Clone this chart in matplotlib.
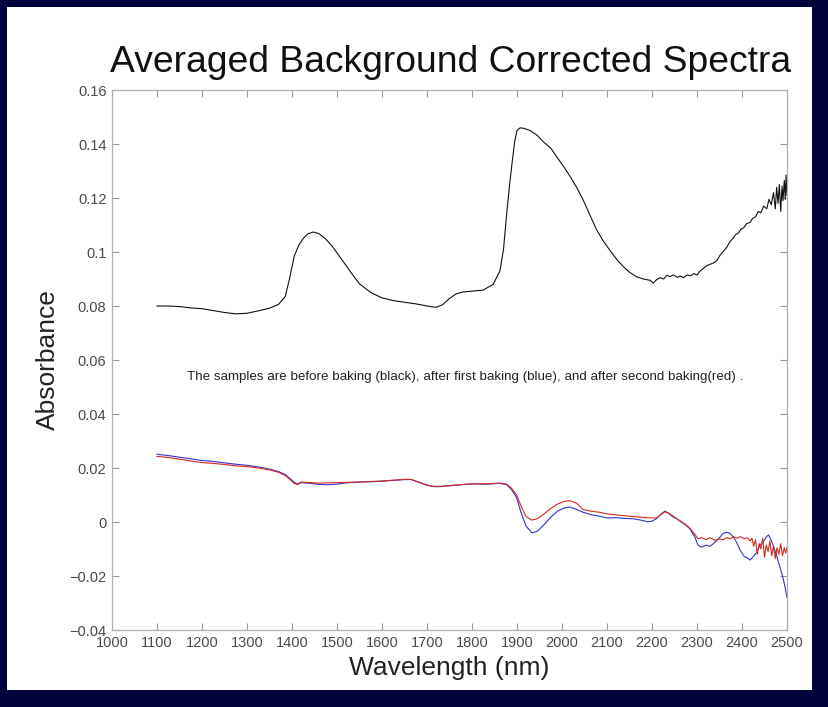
import matplotlib
matplotlib.use("Agg")
import matplotlib.pyplot as plt
from matplotlib.patches import Rectangle

plt.rcParams['font.family'] = ['Liberation Sans', 'DejaVu Sans']

# ---------------- data ----------------
black_nm = [1100,1125,1150,1175,1200,1225,1250,1275,1300,1325,1350,1370,1385,1395,1405,1415,1425,1435,1447,1460,
            1475,1490,1505,1520,1535,1550,1575,1600,1625,1650,1675,1700,1720,1735,1750,1765,1780,1800,1825,1847,
            1862,1870,1877,1883,1889,1895,1900,1907,1915,1929,1945,1958,1975,1988,2003,2018,2033,2047,2062,2077,
            2092,2107,2122,2136,2150,2166,2181,2196,2203,2210,2218,2226,2233,2240,2248,2256,2263,2270,2278,2286,
            2293,2300,2307,2315,2322,2330,2337,2344,2352,2360,2367,2374,2380,2386,2392,2398,2404,2410,2418,2424,
            2430,2436,2442,2448,2455,2460,2465,2470,2474,2477,2480,2483,2486,2489,2491,2494,2496,2498,2500]
black_abs = [0.0800,0.0800,0.0798,0.0793,0.0790,0.0783,0.0776,0.0771,0.0773,0.0782,0.0792,0.0806,0.0835,0.0905,0.0985,
             0.1025,0.1050,0.1067,0.1074,0.1068,0.1048,0.1020,0.0985,0.0950,0.0915,0.0882,0.0850,0.0830,0.0820,0.0814,
             0.0808,0.0800,0.0795,0.0805,0.0828,0.0845,0.0852,0.0855,0.0859,0.0880,0.0930,0.1010,0.1140,0.1240,0.1330,
             0.1410,0.1450,0.1460,0.1458,0.1450,0.1432,0.1409,0.1385,0.1353,0.1318,0.1280,0.1238,0.1193,0.1137,0.1082,
             0.1040,0.1005,0.0972,0.0946,0.0925,0.0908,0.0900,0.0895,0.0885,0.0897,0.0905,0.0900,0.0914,0.0909,0.0915,
             0.0906,0.0911,0.0905,0.0915,0.0912,0.0920,0.0915,0.0930,0.0940,0.0950,0.0955,0.0960,0.0968,0.0990,0.1005,
             0.1020,0.1040,0.1050,0.1065,0.1070,0.1085,0.1090,0.1105,0.1110,0.1125,0.1130,0.1150,0.1145,0.1170,0.1160,
             0.1195,0.1175,0.1220,0.1160,0.1240,0.1180,0.1250,0.1150,0.1245,0.1190,0.1265,0.1195,0.1285,0.1210]

blue_nm = [1100,1125,1150,1175,1200,1225,1250,1275,1300,1325,1350,1370,1385,1395,1405,1412,1420,1440,1460,1480,
           1500,1520,1550,1575,1600,1625,1650,1665,1680,1700,1714,1730,1750,1770,1789,1810,1830,1850,1862,1877,
           1888,1899,1910,1920,1933,1945,1960,1975,1990,2005,2018,2032,2047,2065,2084,2100,2121,2140,2158,2175,
           2190,2200,2210,2220,2229,2238,2247,2255,2265,2275,2284,2295,2302,2310,2320,2329,2340,2350,2358,2366,
           2373,2382,2390,2396,2405,2412,2418,2425,2433,2440,2448,2454,2459,2465,2470,2477,2484,2490,2495,2500]
blue_abs = [0.0251,0.0246,0.0240,0.0234,0.0228,0.0224,0.0219,0.0214,0.0210,0.0204,0.0196,0.0187,0.0176,0.0162,0.0147,
            0.0141,0.0146,0.0143,0.0139,0.0138,0.0140,0.0145,0.0148,0.0149,0.0151,0.0154,0.0157,0.0157,0.0148,0.0136,
            0.0131,0.0131,0.0134,0.0137,0.0140,0.0141,0.0140,0.0142,0.0143,0.0138,0.0120,0.0090,0.0030,-0.0015,-0.0040,
            -0.0035,-0.0010,0.0018,0.0040,0.0052,0.0055,0.0047,0.0036,0.0027,0.0021,0.0015,0.0016,0.0013,0.0012,0.0007,
            0.0001,0.0003,0.0012,0.0030,0.0040,0.0030,0.0018,0.0012,0.0000,-0.0012,-0.0025,-0.0055,-0.0085,-0.0093,-0.0086,
            -0.0090,-0.0075,-0.0058,-0.0042,-0.0038,-0.0042,-0.0058,-0.0082,-0.0105,-0.0128,-0.0133,-0.0141,-0.0128,-0.0112,-0.0085,
            -0.0072,-0.0055,-0.0048,-0.0068,-0.0090,-0.0125,-0.0165,-0.0200,-0.0235,-0.0280]

red_nm = [1100,1125,1150,1175,1200,1225,1250,1275,1300,1325,1350,1370,1385,1395,1405,1412,1420,1440,1460,1480,
          1500,1520,1550,1575,1600,1625,1650,1665,1680,1700,1714,1730,1750,1770,1789,1810,1830,1850,1862,1877,
          1888,1899,1910,1920,1933,1945,1960,1975,1990,2005,2018,2032,2047,2065,2084,2100,2121,2140,2158,2175,
          2190,2200,2210,2220,2229,2238,2247,2255,2265,2275,2284,2295,2302,2310,2320,2329,2340,2350,2358,2366,
          2373,2382,2390,2396,2405,2412,2418,2422,2426,2430,2434,2438,2442,2446,2450,2454,2458,2462,2466,2470,
          2474,2478,2482,2486,2490,2494,2497,2500]
red_abs = [0.0243,0.0239,0.0233,0.0226,0.0220,0.0217,0.0213,0.0208,0.0205,0.0200,0.0193,0.0184,0.0172,0.0158,0.0143,
           0.0138,0.0148,0.0146,0.0144,0.0145,0.0146,0.0147,0.0148,0.0150,0.0152,0.0155,0.0158,0.0158,0.0149,0.0137,
           0.0132,0.0132,0.0135,0.0138,0.0140,0.0142,0.0141,0.0143,0.0144,0.0140,0.0125,0.0100,0.0055,0.0020,0.0007,
           0.0012,0.0030,0.0050,0.0066,0.0076,0.0079,0.0070,0.0046,0.0040,0.0036,0.0030,0.0026,0.0023,0.0020,0.0018,
           0.0016,0.0015,0.0015,0.0028,0.0038,0.0032,0.0022,0.0012,0.0002,-0.0010,-0.0023,-0.0045,-0.0062,-0.0058,-0.0065,
           -0.0058,-0.0068,-0.0063,-0.0066,-0.0058,-0.0062,-0.0055,-0.0060,-0.0054,-0.0062,-0.0058,-0.0070,-0.0060,-0.0090,-0.0065,
           -0.0120,-0.0080,-0.0100,-0.0060,-0.0130,-0.0085,-0.0110,-0.0070,-0.0125,-0.0090,-0.0135,-0.0095,-0.0120,-0.0080,-0.0125,
           -0.0095,-0.0115,-0.0095]

x_ticks = [1000,1100,1200,1300,1400,1500,1600,1700,1800,1900,2000,2100,2200,2300,2400,2500]
x_tick_labels = ['1000','1100','1200','1300','1400','1500','1600','1700','1800','1900','2000',
                 '2100','2200','2300','2400','2500']
y_ticks = [-0.04,-0.02,0,0.02,0.04,0.06,0.08,0.1,0.12,0.14,0.16]
y_tick_labels = ['\u22120.04','\u22120.02','0','0.02','0.04','0.06','0.08','0.1','0.12','0.14','0.16']

title = 'Averaged Background Corrected Spectra'
xlabel = 'Wavelength (nm)'
ylabel = 'Absorbance'
note = 'The samples are before baking (black), after first baking (blue), and after second baking(red) .'

# ---------------- figure ----------------
W, H = 829, 707
fig = plt.figure(figsize=(W/100, H/100), dpi=100)
fig.patch.set_facecolor('#00003c')
fig.patches.append(Rectangle((7/W, 17/H), (812-7)/W, (700-17)/H, transform=fig.transFigure,
                             facecolor='white', edgecolor='none', zorder=-10))

ax = fig.add_axes([112/W, 1-630/H, (787-112)/W, (630-90)/H])
ax.set_zorder(1)
ax.set_facecolor('white')
ax.plot(black_nm, black_abs, color='#111111', lw=0.8)
ax.plot(blue_nm, blue_abs, color='#3333c8', lw=0.8)
ax.plot(red_nm, red_abs, color='#d42a20', lw=0.8)

ax.set_xlim(1000, 2500)
ax.set_ylim(-0.04, 0.16)
ax.set_xticks(x_ticks)
ax.set_xticklabels(x_tick_labels)
ax.set_yticks(y_ticks)
ax.set_yticklabels(y_tick_labels)
ax.tick_params(direction='in', length=5, width=0.8, color='#999999', labelcolor='#4a4a4a',
               labelsize=10.5, top=True, right=True, pad=4)
for s in ax.spines.values():
    s.set_color('#b0b0b0')
    s.set_linewidth(0.9)

ax.text(1167, 0.0537, note, fontsize=9.6, color='#222222', va='center', ha='left')

fig.text(451/W, 1-62/H, title, fontsize=26.8, ha='center', va='center', color='#111111')
ax.set_xlabel(xlabel, fontsize=19, color='#222222', labelpad=5)
ax.set_ylabel(ylabel, fontsize=19, color='#222222', labelpad=7)

fig.savefig('out.png', dpi=100, facecolor=fig.get_facecolor())
